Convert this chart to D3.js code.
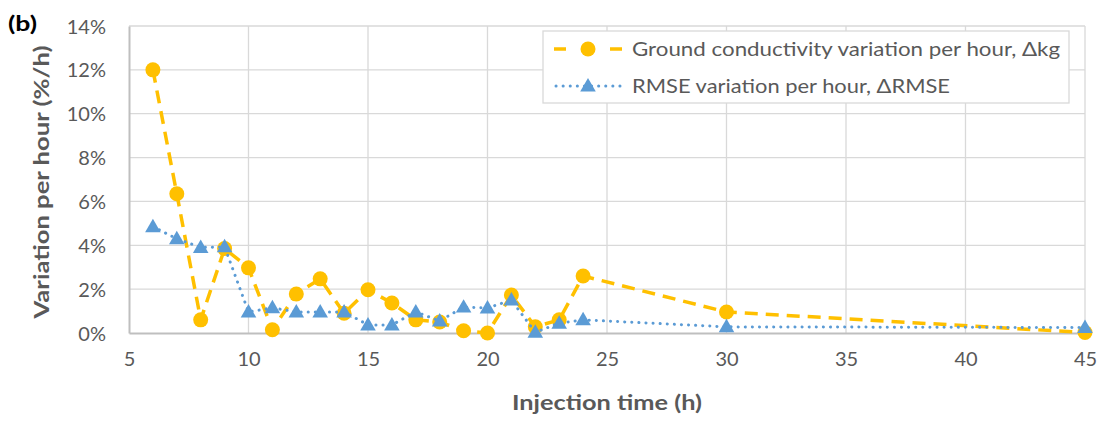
<!DOCTYPE html>
<html><head><meta charset="utf-8">
<script src="https://cdn.jsdelivr.net/npm/d3@7"></script>
<style>
html,body{margin:0;padding:0;background:#fff;}
svg text{font-family:Lato,"Open Sans",sans-serif;}
</style></head>
<body>
<svg id="chart" width="1104" height="422"></svg>
<script>
const hours = [6,7,8,9,10,11,12,13,14,15,16,17,18,19,20,21,22,23,24,30,45];
const groundCond = [12.0,6.35,0.6,3.85,2.97,0.15,1.78,2.47,0.9,1.97,1.37,0.6,0.5,0.1,0.0,1.73,0.28,0.6,2.6,0.96,0.02];
const rmse = [4.85,4.3,3.9,3.93,0.96,1.15,0.96,0.96,0.96,0.37,0.37,0.96,0.55,1.18,1.14,1.5,0.03,0.45,0.6,0.28,0.25];
const xTicks = [5,10,15,20,25,30,35,40,45];
const yTicks = [0,2,4,6,8,10,12,14];
const seriesNames = ["Ground conductivity variation per hour, \u0394kg","RMSE variation per hour, \u0394RMSE"];
const colors = ["#FFC000","#5B9BD5"];

const svg = d3.select("#chart");
const m = {left:129, right:1085, top:26, bottom:333};
const x = d3.scaleLinear().domain([5,45]).range([m.left,m.right]);
const y = d3.scaleLinear().domain([0,14]).range([m.bottom,m.top]);

// gridlines
svg.append("g").selectAll("line").data(yTicks.filter(d=>d>0)).join("line")
  .attr("x1",m.left).attr("x2",m.right).attr("y1",d=>y(d)).attr("y2",d=>y(d))
  .attr("stroke","#d9d9d9").attr("stroke-width",1.3);
svg.append("g").selectAll("line").data(xTicks.filter(d=>d>5)).join("line")
  .attr("y1",m.top).attr("y2",m.bottom).attr("x1",d=>x(d)).attr("x2",d=>x(d))
  .attr("stroke","#d9d9d9").attr("stroke-width",1.3);

// axes
const xAxis = svg.append("g").attr("transform",`translate(0,${m.bottom})`)
  .call(d3.axisBottom(x).tickValues(xTicks).tickSize(0).tickPadding(33).tickFormat(d3.format("d")));
const yAxis = svg.append("g").attr("transform",`translate(${m.left},0)`)
  .call(d3.axisLeft(y).tickValues(yTicks).tickSize(0).tickPadding(23).tickFormat(d=>d+"%"));
[xAxis,yAxis].forEach(a=>{
  a.select(".domain").attr("stroke","#bfbfbf").attr("stroke-width",2);
  a.selectAll("text").attr("fill","#595959").style("font-size","20px");
});
yAxis.selectAll("text").attr("dy","0.35em");
xAxis.selectAll("text").attr("dy","0em");

// titles
svg.append("text").attr("x",607).attr("y",410).attr("text-anchor","middle")
  .attr("fill","#595959").style("font-size","21px").style("font-weight","bold")
  .attr("textLength",190).attr("lengthAdjust","spacingAndGlyphs")
  .text("Injection time (h)");
svg.append("text").attr("transform","translate(49,182) rotate(-90)").attr("text-anchor","middle")
  .attr("fill","#595959").style("font-size","21px").style("font-weight","bold")
  .attr("textLength",273).attr("lengthAdjust","spacingAndGlyphs")
  .text("Variation per hour (%/h)");
svg.append("text").attr("x",8).attr("y",31).attr("fill","#000")
  .style("font-size","20px").style("font-weight","bold")
  .attr("textLength",29).attr("lengthAdjust","spacingAndGlyphs").text("(b)");

const line = d3.line().x(d=>x(d[0])).y(d=>y(d[1]));
const tri = d3.symbol().type(d3.symbolTriangle).size(105);

// series 1
const s1 = hours.map((h,i)=>[h,groundCond[i]]);
svg.append("path").datum(s1).attr("d",line).attr("fill","none")
  .attr("stroke",colors[0]).attr("stroke-width",3.5).attr("stroke-dasharray","13 8");
svg.append("g").selectAll("circle").data(s1).join("circle")
  .attr("cx",d=>x(d[0])).attr("cy",d=>y(d[1])).attr("r",7.5).attr("fill",colors[0]);

// series 2
const s2 = hours.map((h,i)=>[h,rmse[i]]);
svg.append("path").datum(s2).attr("d",line).attr("fill","none")
  .attr("stroke",colors[1]).attr("stroke-width",3).attr("stroke-linecap","round")
  .attr("stroke-dasharray","0.1 7");
svg.append("g").selectAll("path").data(s2).join("path")
  .attr("d",tri).attr("transform",d=>`translate(${x(d[0])},${y(d[1])+1})`).attr("fill",colors[1]);

// legend
const lg = svg.append("g");
lg.append("rect").attr("x",543).attr("y",31).attr("width",526).attr("height",72)
  .attr("fill","#fff").attr("stroke","#d9d9d9").attr("stroke-width",1.3);
const rows = [49,86];
lg.append("line").attr("x1",554).attr("x2",622).attr("y1",rows[0]).attr("y2",rows[0])
  .attr("stroke",colors[0]).attr("stroke-width",3.5).attr("stroke-dasharray","12 44");
lg.append("circle").attr("cx",588).attr("cy",rows[0]).attr("r",7.5).attr("fill",colors[0]);
lg.append("line").attr("x1",556).attr("x2",620).attr("y1",rows[1]).attr("y2",rows[1])
  .attr("stroke",colors[1]).attr("stroke-width",3).attr("stroke-linecap","round").attr("stroke-dasharray","0.1 7");
lg.append("path").attr("d",tri).attr("transform",`translate(588,${rows[1]+1})`).attr("fill",colors[1]);
const lens = [428, 318];
seriesNames.forEach((n,i)=>{
  lg.append("text").attr("x",632).attr("y",rows[i]).attr("dy","0.35em")
    .attr("fill","#595959").style("font-size","20px")
    .attr("textLength",lens[i]).attr("lengthAdjust","spacingAndGlyphs").text(n);
});
</script>
</body></html>
